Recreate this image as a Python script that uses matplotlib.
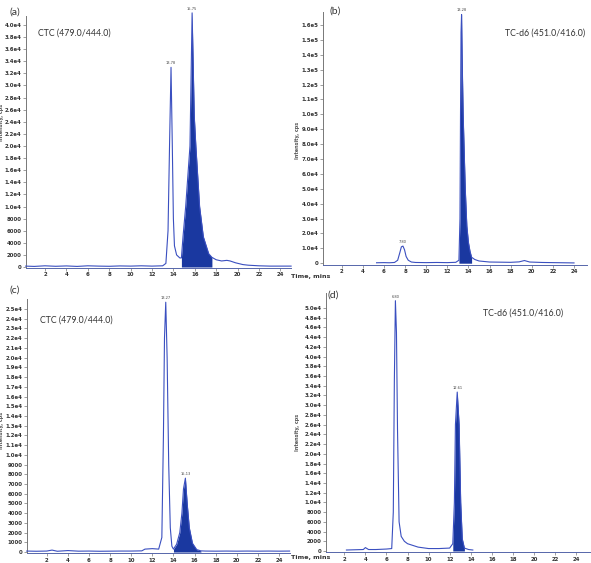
import matplotlib
matplotlib.use("Agg")
import matplotlib.pyplot as plt
import numpy as np

W, H = 591, 563

# ---------------- data ----------------
# Panel (a) CTC (479.0/444.0)
a_t = [0.2, 1, 2, 3, 4, 5, 6, 7, 8, 9, 10, 11, 12, 13.0, 13.3, 13.5, 13.65, 13.78, 13.9, 14.0, 14.1, 14.3, 14.6,
       14.75, 14.9, 15.15, 15.55, 15.75, 15.95, 16.1, 16.45, 16.8, 17.3, 17.6, 18.0, 18.5, 19.0, 19.3, 19.8, 20.5, 21, 22, 23, 24, 25]
a_y = [150, 100, 200, 120, 180, 100, 200, 150, 120, 180, 150, 200, 150, 200, 600, 6000, 21000, 33000, 20000, 8000, 3500, 2000, 1500,
       1500, 5000, 10000, 20000, 42000, 25000, 20000, 10000, 5000, 2200, 1600, 1200, 1000, 1100, 1000, 700, 400, 300, 200, 150, 150, 150]
a_fill = (14.75, 17.6)
a_peaks = [(13.78, 33000, "13.78"), (15.75, 42000, "15.75")]

# Panel (b) TC-d6 (451.0/416.0)
b_t = [5.3, 6, 6.5, 7.0, 7.3, 7.5, 7.65, 7.8, 7.95, 8.1, 8.3, 8.6, 9, 10, 11, 12, 12.8, 13.1, 13.2, 13.25, 13.3, 13.35,
       13.4, 13.5, 13.6, 13.7, 13.85, 14.0, 14.15, 14.3, 14.6, 15.0, 16, 17, 18, 18.8, 19.3, 19.8, 21, 22, 23, 24]
b_y = [300, 400, 300, 500, 2000, 7000, 11000, 11500, 9000, 4500, 2000, 800, 500, 400, 500, 400, 600, 2000, 30000, 100000, 155000,
       167000, 140000, 100000, 75000, 50000, 25000, 14000, 8000, 4000, 2500, 1500, 800, 700, 600, 900, 1800, 800, 500, 400, 300, 200]
b_fill = (13.1, 14.3)
b_peaks = [(7.80, 11500, "7.80"), (13.35, 167000, "13.28")]

# Panel (c) CTC (479.0/444.0)
c_t = [0.1, 1, 2, 2.5, 3, 4, 5, 6, 7, 8, 9, 10, 11, 11.3, 12, 12.6, 12.9, 13.05, 13.15, 13.27, 13.4, 13.55, 13.7, 13.85, 14.0,
       14.3, 14.6, 14.8, 14.95, 15.13, 15.3, 15.5, 15.8, 16.2, 16.6, 17, 18, 19, 20, 21, 22, 23, 24, 25]
c_y = [100, 80, 100, 200, 80, 150, 90, 100, 80, 90, 100, 100, 120, 300, 350, 300, 1500, 12000, 22000, 25700, 20000, 9000, 2500, 600, 300,
       800, 2000, 4000, 6500, 7600, 5000, 2500, 900, 250, 120, 100, 90, 100, 90, 100, 90, 100, 90, 100]
c_fill = (14.0, 16.6)
c_peaks = [(13.27, 25700, "13.27"), (15.13, 7600, "15.13")]

# Panel (d) TC-d6 (451.0/416.0)
d_t = [2.2, 3, 3.8, 4.0, 4.3, 5, 6, 6.5, 6.65, 6.75, 6.85, 6.95, 7.05, 7.2, 7.4, 7.7, 8.0, 9, 10, 11, 12, 12.3, 12.45, 12.55,
       12.72, 12.9, 13.05, 13.2, 13.4, 13.8, 14.2]
d_y = [200, 250, 300, 700, 300, 300, 400, 500, 8000, 35000, 51500, 45000, 25000, 6000, 3000, 2000, 1500, 800, 500, 500, 600, 1500,
       10000, 26000, 32700, 26000, 10000, 2500, 600, 300, 200]
d_fill = (12.3, 13.4)
d_peaks = [(6.85, 51500, "6.80"), (12.72, 32700, "12.61")]

x_ticks = [2, 4, 6, 8, 10, 12, 14, 16, 18, 20, 22, 24]

a_yticks = [0, 2000, 4000, 6000, 8000, 10000, 12000, 14000, 16000, 18000, 20000, 22000, 24000, 26000, 28000,
            30000, 32000, 34000, 36000, 38000, 40000]
a_ylabels = ["0", "2000", "4000", "6000", "8000", "1.0e4", "1.2e4", "1.4e4", "1.6e4", "1.8e4", "2.0e4", "2.2e4", "2.4e4",
             "2.6e4", "2.8e4", "3.0e4", "3.2e4", "3.4e4", "3.6e4", "3.8e4", "4.0e4"]
b_yticks = [0, 10000, 20000, 30000, 40000, 50000, 60000, 70000, 80000, 90000, 100000, 110000, 120000, 130000,
            140000, 150000, 160000]
b_ylabels = ["0", "1.0e4", "2.0e4", "3.0e4", "4.0e4", "5.0e4", "6.0e4", "7.0e4", "8.0e4", "9.0e4", "1.0e5", "1.1e5",
             "1.2e5", "1.3e5", "1.4e5", "1.5e5", "1.6e5"]
c_yticks = [0, 1000, 2000, 3000, 4000, 5000, 6000, 7000, 8000, 9000, 10000, 11000, 12000, 13000, 14000, 15000,
            16000, 17000, 18000, 19000, 20000, 21000, 22000, 23000, 24000, 25000]
c_ylabels = ["0", "1000", "2000", "3000", "4000", "5000", "6000", "7000", "8000", "9000", "1.0e4", "1.1e4", "1.2e4",
             "1.3e4", "1.4e4", "1.5e4", "1.6e4", "1.7e4", "1.8e4", "1.9e4", "2.0e4", "2.1e4", "2.2e4", "2.3e4",
             "2.4e4", "2.5e4"]
d_yticks = [0, 2000, 4000, 6000, 8000, 10000, 12000, 14000, 16000, 18000, 20000, 22000, 24000, 26000, 28000,
            30000, 32000, 34000, 36000, 38000, 40000, 42000, 44000, 46000, 48000, 50000]
d_ylabels = ["0", "2000", "4000", "6000", "8000", "1.0e4", "1.2e4", "1.4e4", "1.6e4", "1.8e4", "2.0e4", "2.2e4",
             "2.4e4", "2.6e4", "2.8e4", "3.0e4", "3.2e4", "3.4e4", "3.6e4", "3.8e4", "4.0e4", "4.2e4", "4.4e4",
             "4.6e4", "4.8e4", "5.0e4"]

# ---------------- drawing ----------------
LINE = "#3a4fc0"
BASE = "#5566aa"
FILL = "#1a38a0"
TXT = "#333333"

fig = plt.figure(figsize=(W / 100, H / 100), dpi=100)


def box(l, r, top, bot):
    return [l / W, 1 - bot / H, (r - l) / W, (bot - top) / H]


panels = [
    dict(rect=box(25.7, 291.1, 15.9, 267.8), xlim=(0.2, 25.0), ylim=(-130, 41500), t=a_t, y=a_y, fill=a_fill,
         peaks=a_peaks, yt=a_yticks, yl=a_ylabels),
    dict(rect=box(322.7, 586.7, 12.3, 265.0), xlim=(0.2, 25.2), ylim=(-1200, 168500), t=b_t, y=b_y, fill=b_fill,
         peaks=b_peaks, yt=b_yticks, yl=b_ylabels),
    dict(rect=box(26.7, 289.6, 299.3, 553.2), xlim=(0.1, 25.0), ylim=(-120, 26000), t=c_t, y=c_y, fill=c_fill,
         peaks=c_peaks, yt=c_yticks, yl=c_ylabels),
    dict(rect=box(325.9, 589.7, 293.4, 552.2), xlim=(0.25, 25.3), ylim=(-250, 53000), t=d_t, y=d_y, fill=d_fill,
         peaks=d_peaks, yt=d_yticks, yl=d_ylabels),
]

for p in panels:
    ax = fig.add_axes(p["rect"])
    t = np.array(p["t"])
    y = np.array(p["y"])
    ax.plot(t, y, color=LINE, lw=0.8, clip_on=False, zorder=3)
    m = (t >= p["fill"][0]) & (t <= p["fill"][1])
    ax.fill_between(t[m], 0, y[m], color=FILL, lw=0, zorder=2, clip_on=False)
    ax.set_xlim(*p["xlim"])
    ax.set_ylim(*p["ylim"])
    ax.set_xticks(x_ticks)
    ax.set_xticklabels([str(v) for v in x_ticks])
    ax.set_yticks(p["yt"])
    ax.set_yticklabels(p["yl"])
    for s in ("top", "right"):
        ax.spines[s].set_visible(False)
    ax.spines["left"].set_color("#777777")
    ax.spines["left"].set_linewidth(0.7)
    ax.spines["bottom"].set_color(BASE)
    ax.spines["bottom"].set_linewidth(0.7)
    ax.tick_params(axis="both", length=2, width=0.5, color="#777777", pad=1.2, labelsize=3.9,
                   labelcolor=TXT)
    for lab in ax.get_xticklabels() + ax.get_yticklabels():
        lab.set_fontweight("bold")
    for (px, py, s) in p["peaks"]:
        ax.annotate(s, (px, py), xytext=(0, 1.5), textcoords="offset points", ha="center", va="bottom",
                    fontsize=2.6, color="#444444", annotation_clip=False)

FONT = "Lato"
FS = 6.3
fig.text(9 / W, 1 - 12 / H, "(a)", fontsize=7.5, family=FONT, color="#333", ha="left", va="center")
fig.text(38 / W, 1 - 33 / H, "CTC (479.0/444.0)", fontsize=FS, family=FONT, color="#333", ha="left", va="center")
fig.text(330 / W, 1 - 11 / H, "(b)", fontsize=7.5, family=FONT, color="#333", ha="left", va="center")
fig.text(505 / W, 1 - 33 / H, "TC-d6 (451.0/416.0)", fontsize=FS, family=FONT, color="#333", ha="left", va="center")
fig.text(9 / W, 1 - 290 / H, "(c)", fontsize=7.5, family=FONT, color="#333", ha="left", va="center")
fig.text(40 / W, 1 - 320 / H, "CTC (479.0/444.0)", fontsize=FS, family=FONT, color="#333", ha="left", va="center")
fig.text(327 / W, 1 - 295 / H, "(d)", fontsize=7.5, family=FONT, color="#333", ha="left", va="center")
fig.text(483 / W, 1 - 313 / H, "TC-d6 (451.0/416.0)", fontsize=FS, family=FONT, color="#333", ha="left", va="center")

# axis titles
for (x, yv) in [(291, 277), (291, 557)]:
    fig.text(x / W, 1 - yv / H, "Time, mins", fontsize=4.6, fontweight="bold", color=TXT, ha="left", va="center")
for (x, yv) in [(2.0, 122), (297, 140), (2.0, 430), (297, 432)]:
    fig.text(x / W, 1 - yv / H, "Intensity, cps", fontsize=3.5, fontweight="bold", color="#555555", rotation=90,
             ha="center", va="center")

fig.savefig("out.png", dpi=100)
